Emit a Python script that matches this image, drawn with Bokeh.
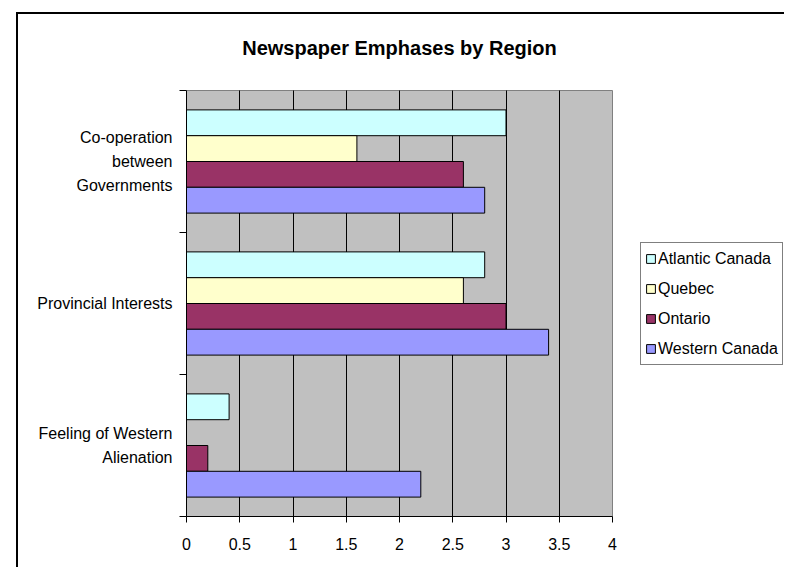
from bokeh.plotting import figure
from bokeh.models import FixedTicker, Legend, LegendItem, Range1d, Label
from bokeh.embed import file_html
from bokeh.resources import INLINE

title_text = "Newspaper Emphases by Region"
# categories listed top to bottom
categories = ["Co-operation\nbetween\nGovernments", "Provincial Interests", "Feeling of Western\nAlienation"]
series = ["Atlantic Canada", "Quebec", "Ontario", "Western Canada"]
atlantic = [3.0, 2.8, 0.4]
quebec = [1.6, 2.6, 0.0]
ontario = [2.6, 3.0, 0.2]
western = [2.8, 3.4, 2.2]
colors = ["#CCFFFF", "#FFFFCC", "#993366", "#9999FF"]
x_ticks = [0, 0.5, 1, 1.5, 2, 2.5, 3, 3.5, 4]
x_tick_labels = ["0", "0.5", "1", "1.5", "2", "2.5", "3", "3.5", "4"]

values = [atlantic, quebec, ontario, western]
FONT = "Liberation Sans"
n = len(categories)
cat_y = [n - i - 0.5 for i in range(n)]
bar_h = 0.1817
x_max = x_ticks[-1]

# layout in pixels (canvas)
W, H = 768, 555
left_px, bottom_px = 168, 53
plot_w, plot_h = 426, 426
frame_w, frame_h = W - left_px, H - bottom_px
x_end = x_max * frame_w / plot_w
y_end = n * frame_h / plot_h

p = figure(width=W, height=H, output_backend="svg", toolbar_location=None,
           x_range=Range1d(0, x_end), y_range=Range1d(0, y_end),
           min_border_left=left_px, min_border_right=0, min_border_top=0,
           min_border_bottom=bottom_px)
p.styles = {"margin-left": "16px", "margin-top": "12px",
            "border-left": "2px solid black", "border-top": "2px solid black"}
p.background_fill_color = "white"
p.border_fill_color = "white"
p.outline_line_color = None

# plot area
p.quad(left=0, right=x_max, bottom=0, top=n, fill_color="#C0C0C0",
       line_color="#808080", line_width=1, level="image")

renderers = []
for j, (name, vals, col) in enumerate(zip(series, values, colors)):
    ys = [c + (1.5 - j) * bar_h for c in cat_y]
    r = p.hbar(y=ys, left=0, right=vals, height=bar_h, fill_color=col,
               line_color="black", line_width=1)
    renderers.append(r)

# x axis
xa = p.xaxis[0]
xa.ticker = FixedTicker(ticks=x_ticks)
xa.bounds = (0, x_max)
xa.major_label_overrides = {t: l for t, l in zip(x_ticks, x_tick_labels)}
xa.major_tick_out = 6
xa.major_tick_in = 0
xa.minor_tick_line_color = None
xa.axis_line_color = "black"
xa.major_tick_line_color = "black"
xa.major_label_text_font = FONT
xa.major_label_text_font_size = "16px"
xa.major_label_text_color = "black"
xa.major_label_standoff = 15

# y axis
ya = p.yaxis[0]
ya.ticker = FixedTicker(ticks=cat_y, minor_ticks=list(range(n + 1)))
ya.bounds = (0, n)
ya.major_label_overrides = {c: l for c, l in zip(cat_y, categories)}
ya.major_tick_out = 0
ya.major_tick_in = 0
ya.major_tick_line_color = None
ya.minor_tick_out = 7
ya.minor_tick_in = 0
ya.minor_tick_line_color = "black"
ya.axis_line_color = "black"
ya.major_label_text_font = FONT
ya.major_label_text_font_size = "16px"
ya.major_label_text_color = "black"
ya.major_label_text_line_height = 1.4
ya.major_label_text_align = "center"
ya.major_label_standoff = 7

grid_ticks = x_ticks[:-1]
p.xgrid.ticker = FixedTicker(ticks=grid_ticks)
p.xgrid.grid_line_color = "black"
p.xgrid.grid_line_width = 1
p.ygrid.grid_line_color = None
try:
    p.xgrid.cross_bounds = (0, n)
except AttributeError:
    p.xgrid.visible = False
    p.segment(x0=grid_ticks, x1=grid_ticks, y0=0, y1=n, line_color="black",
              line_width=1, level="underlay")

# chart title
title_y = n + 43 / (plot_h / n)
p.add_layout(Label(x=x_max / 2, y=title_y, text=title_text, text_align="center",
                   text_baseline="middle", text_font=FONT, text_font_size="20px",
                   text_font_style="bold", text_color="black"))

legend = Legend(items=[LegendItem(label=s, renderers=[r]) for s, r in zip(series, renderers)],
                location=(454, 151))
legend.border_line_color = "black"
legend.border_line_width = 1
legend.background_fill_color = "white"
legend.background_fill_alpha = 1
legend.padding = 4
legend.margin = 0
legend.spacing = 7
legend.glyph_width = 11
legend.glyph_height = 11
legend.label_height = 23
legend.label_standoff = 2
legend.label_text_font = FONT
legend.label_text_font_size = "16px"
legend.label_text_color = "black"
p.add_layout(legend, "center")

open("out.html", "w").write(file_html(p, INLINE))
